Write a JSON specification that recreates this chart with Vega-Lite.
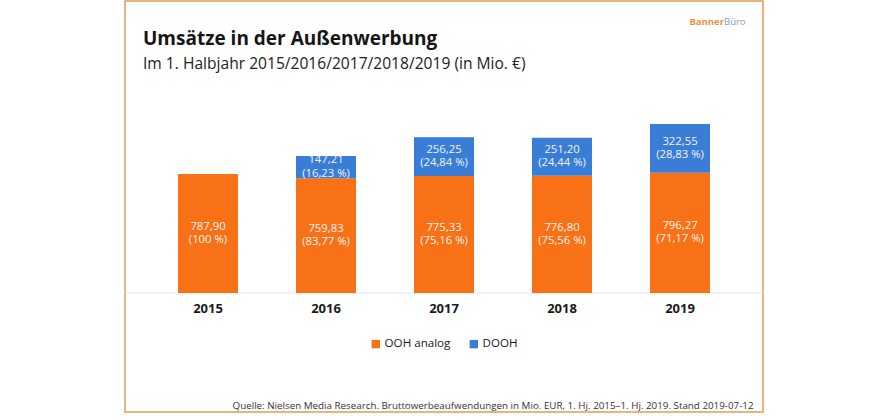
{
  "$schema": "https://vega.github.io/schema/vega-lite/v6.json",
  "width": 638,
  "height": 411,
  "autosize": {"type": "none"},
  "padding": {"left": 125, "top": 1, "right": 125, "bottom": 8},
  "background": "white",
  "config": {
    "view": {"stroke": "#E49B55", "strokeWidth": 1.5},
    "font": "Open Sans"
  },
  "title": {
    "text": "Umsätze in der Außenwerbung",
    "subtitle": "Im 1. Halbjahr 2015/2016/2017/2018/2019 (in Mio. €)",
    "anchor": "start",
    "frame": "group",
    "offset": -72,
    "dx": 18,
    "fontSize": 19,
    "fontWeight": "bold",
    "color": "#151515",
    "subtitleFontSize": 15.6,
    "subtitleColor": "#222222",
    "subtitlePadding": 8
  },
  "data": {
    "values": [
      {"year": "2015", "type": "OOH analog", "value": 787.90, "amount": "787,90", "share": "(100 %)"},
      {"year": "2016", "type": "OOH analog", "value": 759.83, "amount": "759,83", "share": "(83,77 %)"},
      {"year": "2016", "type": "DOOH", "value": 147.21, "amount": "147,21", "share": "(16,23 %)"},
      {"year": "2017", "type": "OOH analog", "value": 775.33, "amount": "775,33", "share": "(75,16 %)"},
      {"year": "2017", "type": "DOOH", "value": 256.25, "amount": "256,25", "share": "(24,84 %)"},
      {"year": "2018", "type": "OOH analog", "value": 776.80, "amount": "776,80", "share": "(75,56 %)"},
      {"year": "2018", "type": "DOOH", "value": 251.20, "amount": "251,20", "share": "(24,44 %)"},
      {"year": "2019", "type": "OOH analog", "value": 796.27, "amount": "796,27", "share": "(71,17 %)"},
      {"year": "2019", "type": "DOOH", "value": 322.55, "amount": "322,55", "share": "(28,83 %)"}
    ]
  },
  "encoding": {
    "x": {
      "field": "year",
      "type": "nominal",
      "scale": {"paddingInner": 0.4915, "paddingOuter": 0.449},
      "axis": {
        "labels": false,
        "ticks": false,
        "domain": false,
        "title": "Quelle: Nielsen Media Research. Bruttowerbeaufwendungen in Mio. EUR, 1. Hj. 2015–1. Hj. 2019. Stand 2019-07-12",
        "titleFontSize": 9.8,
        "titleFontWeight": "normal",
        "titleColor": "#333333",
        "titleX": 628,
        "titleY": -4,
        "titleAlign": "right",
        "titleBaseline": "alphabetic"
      }
    }
  },
  "layer": [
    {
      "data": {"values": [{"base": 0}]},
      "mark": {"type": "rule", "color": "#E6E6E6", "strokeWidth": 1},
      "encoding": {
        "x": null,
        "y": {"field": "base", "type": "quantitative", "scale": {"domain": [-788, 1934], "nice": false, "zero": false}, "axis": null}
      }
    },
    {
      "transform": [
        {"stack": "value", "groupby": ["year"], "sort": [{"field": "type", "order": "descending"}], "as": ["y0", "y1"]}
      ],
      "mark": {"type": "bar"},
      "encoding": {
        "y": {"field": "y0", "type": "quantitative", "axis": null},
        "y2": {"field": "y1"},
        "color": {
          "field": "type",
          "type": "nominal",
          "scale": {"domain": ["OOH analog", "DOOH"], "range": ["#F97117", "#3A7DD6"]},
          "legend": {
            "orient": "none",
            "legendX": 245,
            "legendY": 337,
            "direction": "horizontal",
            "title": null,
            "symbolType": "square",
            "symbolSize": 70,
            "symbolStrokeWidth": 0,
            "labelFontSize": 11.6,
            "labelOffset": 3,
            "labelColor": "#1a1a1a",
            "columnPadding": 17
          }
        }
      }
    },
    {
      "transform": [
        {"stack": "value", "groupby": ["year"], "sort": [{"field": "type", "order": "descending"}], "as": ["y0", "y1"]},
        {"calculate": "(datum.y0 + datum.y1) / 2", "as": "ymid"}
      ],
      "mark": {"type": "text", "color": "#FFFFFF", "fontSize": 11.3, "baseline": "middle", "dy": -6.8, "opacity": 0.93},
      "encoding": {
        "y": {"field": "ymid", "type": "quantitative"},
        "text": {"field": "amount"}
      }
    },
    {
      "transform": [
        {"stack": "value", "groupby": ["year"], "sort": [{"field": "type", "order": "descending"}], "as": ["y0", "y1"]},
        {"calculate": "(datum.y0 + datum.y1) / 2", "as": "ymid"}
      ],
      "mark": {"type": "text", "color": "#FFFFFF", "fontSize": 11.3, "baseline": "middle", "dy": 6.5, "opacity": 0.93},
      "encoding": {
        "y": {"field": "ymid", "type": "quantitative"},
        "text": {"field": "share"}
      }
    },
    {
      "data": {"values": [{"year": "2015"}, {"year": "2016"}, {"year": "2017"}, {"year": "2018"}, {"year": "2019"}]},
      "mark": {"type": "text", "fontSize": 13, "fontWeight": "bold", "color": "#1a1a1a", "baseline": "middle", "dy": 16},
      "encoding": {
        "y": {"datum": 0, "type": "quantitative"},
        "text": {"field": "year"}
      }
    },
    {
      "data": {"values": [{"t": "Banner"}]},
      "mark": {"type": "text", "fontSize": 9.5, "fontWeight": "bold", "color": "#F0903A", "align": "right", "baseline": "middle", "dx": 44},
      "encoding": {
        "x": {"datum": "2019"},
        "y": {"datum": 1795, "type": "quantitative"},
        "text": {"field": "t"}
      }
    },
    {
      "data": {"values": [{"t": "Büro"}]},
      "mark": {"type": "text", "fontSize": 9.5, "color": "#8A9BB0", "align": "left", "baseline": "middle", "dx": 44},
      "encoding": {
        "x": {"datum": "2019"},
        "y": {"datum": 1795, "type": "quantitative"},
        "text": {"field": "t"}
      }
    }
  ]
}
